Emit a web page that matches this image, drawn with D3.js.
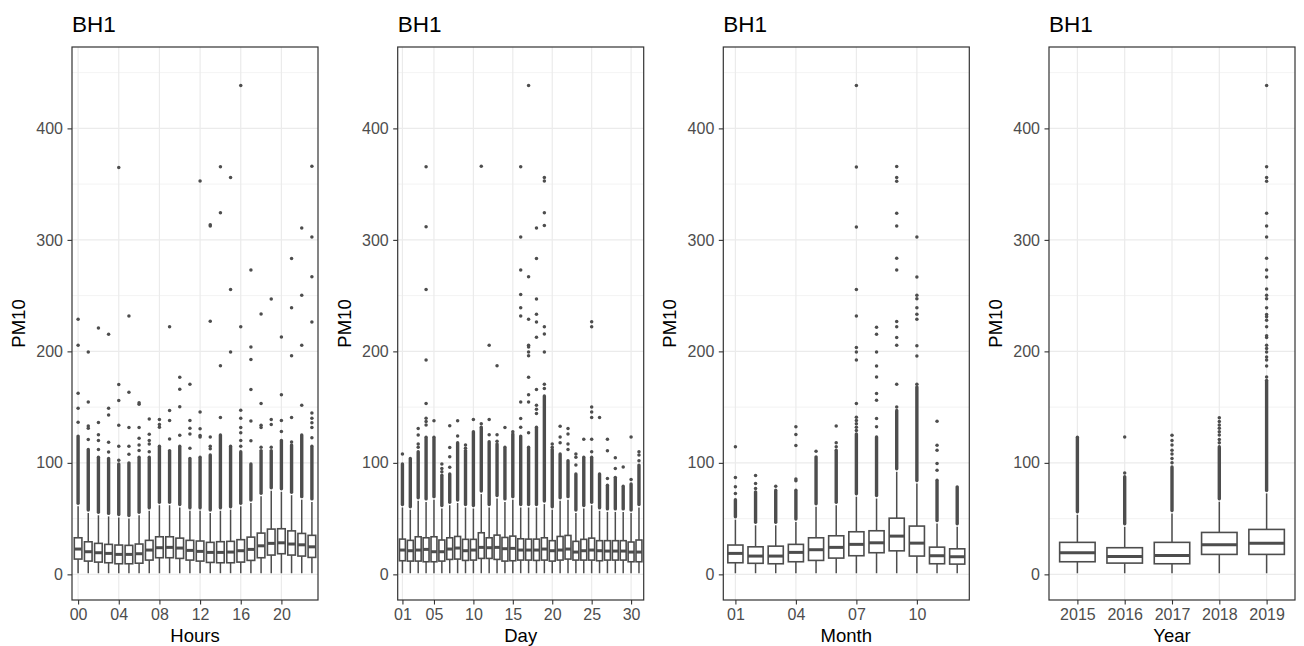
<!DOCTYPE html>
<html><head><meta charset="utf-8">
<script src="https://cdn.jsdelivr.net/npm/d3@7"></script>
<style>
body{margin:0;background:#fff}
svg{display:block}
text{font-family:"Liberation Sans",Arial,Helvetica,sans-serif}
</style>
</head><body>
<svg id="c" width="1304" height="646"></svg>
<script>
// ---------------- DATA ----------------
const yLimits = [-23, 473];
const yMajor = [0, 100, 200, 300, 400];
const yMinor = [50, 150, 250, 350, 450];

// Hours
const hourCats = ["00","01","02","03","04","05","06","07","08","09","10","11","12","13","14","15","16","17","18","19","20","21","22","23"];
const hourTicks = ["00","04","08","12","16","20"];
const hourLo  = [1,1,1,1,1,1,1,1,1,1,1,1,1,1,1,1,1,1,1,1,1,1,1,1];
const hourQ1  = [13.7,11.9,11,10.4,9.5,9.5,10,12.8,14.9,14.9,14.3,12.8,11.9,10.7,10.4,10.4,11,12.5,14.9,17.3,18.5,17.3,16.4,15.2];
const hourMed = [22.7,20.3,19.4,18.8,17.9,17.9,18.5,21.8,23.9,24.2,23.6,21.5,20.6,19.7,19.7,20,21.2,22.4,25.6,27.8,28.3,27.2,26.5,24.7];
const hourQ3  = [32.8,29.2,27.8,26.9,26.3,26,27.2,30.5,33.7,33.7,32.5,30.5,29.9,28.7,29.3,29.6,31.1,33.4,37,40.6,40.9,39,36.7,35];
const hourHi  = [61,55,53,52,51,50,53,57,62,62,60,57,57,55,57,58,61,64,70,75,74,71,67,65];
const hourDense = [124,112,105,104,99,100,105,105,115,111,115,104,105,107,125,115,110,99,111,111,120,116,125,115];
const hourOut = [
  [136.5,149,162.4,205.5,228.8],
  [121,131,133,154.7,199.5],
  [112,120,125.3,136.1,221],
  [109.8,118.5,143,149,215.3],
  [102.4,115,133.8,155.9,170.2,365],
  [107.8,115,131.7,163.3,231.7],
  [111,116,122,131.7,152.5,154],
  [110,117,120,125.6,139.4],
  [132,134.5,138.8],
  [121.3,138,146.9,222],
  [124.7,150.4,166,176.8],
  [113,126,131,138,170.5],
  [123.2,124.5,130.7,145.7,352.7],
  [112.7,115,123.2,227,312.4,313.5],
  [140.6,187,324.4,365.6],
  [199.5,255.6,356],
  [115,120,126.9,131.7,140,147.2,222,438.4],
  [119.9,137.5,165.7,192.6,204,273],
  [114,131.7,133.8,153.2,233.5],
  [114,134.3,138.8,247],
  [128.2,138,161.2,212.9],
  [118.8,140.6,196,239.2,283.4],
  [151.7,205.5,250.3,310.6],
  [122.6,131.7,136,140,144.8,226.3,267,302.5,366]
];

// Day
const dayCats = ["01","02","03","04","05","06","07","08","09","10","11","12","13","14","15","16","17","18","19","20","21","22","23","24","25","26","27","28","29","30","31"];
const dayTicks = ["01","05","10","15","20","25","30"];
const dayLo  = [1,1,1,1,1,1,1,1,1,1,1,1,1,1,1,1,1,1,1,1,1,1,1,1,1,1,1,1,1,1,1];
const dayQ1  = [12.2,11.9,11.9,11.3,11.3,11.9,13.4,13.7,12.5,12.8,14.3,14.3,13.4,11.9,12.2,12.8,12.8,12.5,12.8,11.9,12.8,13.7,12.8,12.8,12.8,12.2,12.8,12.8,12.8,11.3,11.3];
const dayMed = [21.8,21.2,21.8,22.4,20.3,20.3,22.7,23.6,21.2,21.8,24.2,23.9,24.2,23,23.3,21.8,21.8,21.8,22.7,21.2,21.8,22.7,20,21.2,21.8,21.2,20.9,20.9,20.9,20,20];
const dayQ3  = [31.6,30.5,33.7,32.8,33.7,30.8,32.8,34,31.4,31.4,37.3,32.8,35.2,33.1,34.3,31.9,31.6,31.6,32.8,30.2,34,34.9,29.6,31.4,32.5,30.2,30.2,30.2,30.2,29,30.8];
const dayHi  = [60,58,66,65,67,59,62,64,60,59,72,60,68,65,67,60,60,60,63,58,66,67,55,59,62,57,56,56,56,55,60];
const dayDense = [99,104,110,123,123,89,90,118,111,128,132,119,117,114,126,124,114,132,160,112,108,102,90,105,105,90,80,87,79,81,98];
const dayOut = [
  [108],
  [],
  [114,117,125,130.8],
  [134,137,140,153.2,192.3,255.6,311.8,365.6],
  [137.7],
  [92,95,99],
  [96,105.5,113.8,133.2],
  [124,137.7],
  [113,116],
  [138.8],
  [135,366.1],
  [125.3,138.8,205.5],
  [119.3,125.3,187],
  [131.7],
  [128],
  [132,139.7,154.7,231.7,239.2,251,273,302.5,365.6],
  [127,154.7,161.1,176.8,196,199.5,204,205.5,228.8,267,438.4],
  [144.2,148,151.7,165.7,212.6,226.3,233.3,247,283.4,310.6],
  [166.7,170.6,199.5,215.5,222,313,324.4,352.7,356],
  [114,117],
  [118,123.2,132.8],
  [112,117,126,130.8],
  [98,105,108],
  [121.1],
  [110,121.1,140.6,145.7,150.2,222,226.6],
  [140.6],
  [86,110.9,121.1],
  [95,104.6],
  [96.3],
  [85,123.2],
  [102,107,110]
];

// Month
const monthCats = ["01","02","03","04","05","06","07","08","09","10","11","12"];
const monthTicks = ["01","04","07","10"];
const monthLo  = [1,1,1,1,1,1,1,1,1,1,1,1];
const monthQ1  = [10.4,9.9,9.5,11.3,12.5,14.6,16.7,19.4,21.1,16.4,9.5,9.2];
const monthMed = [18.8,16.4,16.4,19.7,22.1,24.2,26.9,28.3,34.3,28,16.7,15.8];
const monthQ3  = [26.3,24.7,25.3,26.9,32.8,34.6,38.2,39.1,50.4,43.3,24.4,22.9];
const monthHi  = [49,44,44,47,60.6,62,69.6,68,92,81.5,45.6,42.6];
const monthDense = [67,74,75.5,75.5,105.4,111.4,126,123.3,147,168,84.5,78.5];
const monthOut = [
  [72.6,78.5,86.9,114.4],
  [77,81.5,88.7],
  [79],
  [84,85.6,115.6,125.4,132.3],
  [110.5],
  [114.4,118,133],
  [129,132,135,138,141,153.2,192.2,199.4,203.5,231.7,255.5,311.6,365.3,438.4],
  [132.3,139.8,156.2,162.2,177,186.9,199.4,215.4,221.6],
  [150.2,170.6,205.6,212.5,222,226.7,273,283.5,312.5,323.8,352.5,356,365.9],
  [170.6,195.8,205,228.8,233.3,239.2,247.3,250.3,266.7,302.5],
  [93.4,99.4,111.4,115.9,137.4],
  []
];

// Year
const yearCats = ["2015","2016","2017","2018","2019"];
const yearTicks = ["2015","2016","2017","2018","2019"];
const yearLo  = [1,1,1,1,1];
const yearQ1  = [11.3,10.1,9.5,17.9,17.9];
const yearMed = [19.4,16.1,17,26.5,28];
const yearQ3  = [28.7,23.9,28.7,37.6,40.3];
const yearHi  = [53.4,42.6,54.6,65.1,72.6];
const yearDense = [123,87.5,96.4,114.4,174];
const yearOut = [
  [],
  [91,123.3],
  [100,104,108,111.4,116,120,124.8],
  [118,121,125,128,131,134,137,140.5],
  [177,186.9,192.2,195,199.4,202.6,205.6,212.5,214,222,228,231,233,239.2,247.3,250.3,255.9,266.7,273,283.5,302.5,312.5,323.8,352.5,356,365.6,438.4]
];

// ---------------- DRAW ----------------
const panels = [
  {title:"BH1", xTitle:"Hours", cats:hourCats, ticks:hourTicks, lo:hourLo, q1:hourQ1, med:hourMed, q3:hourQ3, hi:hourHi, dense:hourDense, out:hourOut},
  {title:"BH1", xTitle:"Day",   cats:dayCats,  ticks:dayTicks,  lo:dayLo,  q1:dayQ1,  med:dayMed,  q3:dayQ3,  hi:dayHi,  dense:dayDense,  out:dayOut},
  {title:"BH1", xTitle:"Month", cats:monthCats,ticks:monthTicks,lo:monthLo,q1:monthQ1,med:monthMed,q3:monthQ3,hi:monthHi,dense:monthDense,out:monthOut},
  {title:"BH1", xTitle:"Year",  cats:yearCats, ticks:yearTicks, lo:yearLo, q1:yearQ1, med:yearMed, q3:yearQ3, hi:yearHi, dense:yearDense, out:yearOut}
];

const W = 246, TOP = 47, BOTTOM = 600;
const lefts = [72, 397.7, 723.3, 1049];
const ink = "#4d4d4d";
const svg = d3.select("#c");
const y = d3.scaleLinear().domain(yLimits).range([BOTTOM, TOP]);

panels.forEach((p, k) => {
  const g = svg.append("g").attr("transform", `translate(${lefts[k]},0)`);
  const x = d3.scalePoint().domain(p.cats).range([0, W]).padding(0.6);
  const bw = x.step() * 0.75;

  // grid
  g.selectAll("line.ymin").data(yMinor).join("line")
    .attr("x1",0).attr("x2",W).attr("y1",d=>y(d)).attr("y2",d=>y(d))
    .attr("stroke","#ebebeb").attr("stroke-width",0.6);
  g.selectAll("line.ymaj").data(yMajor).join("line")
    .attr("x1",0).attr("x2",W).attr("y1",d=>y(d)).attr("y2",d=>y(d))
    .attr("stroke","#ebebeb").attr("stroke-width",1.2);
  g.selectAll("line.xmaj").data(p.ticks).join("line")
    .attr("x1",d=>x(d)).attr("x2",d=>x(d)).attr("y1",TOP).attr("y2",BOTTOM)
    .attr("stroke","#ebebeb").attr("stroke-width",1.2);

  const rows = p.cats.map((c,i)=>({c, lo:p.lo[i], q1:p.q1[i], med:p.med[i], q3:p.q3[i], hi:p.hi[i], dense:p.dense[i], out:p.out[i]}));

  // whiskers
  const bx = g.append("g");
  bx.selectAll("line.wu").data(rows).join("line")
    .attr("x1",d=>x(d.c)).attr("x2",d=>x(d.c)).attr("y1",d=>y(d.q3)).attr("y2",d=>y(d.hi))
    .attr("stroke",ink).attr("stroke-width",1.5);
  bx.selectAll("line.wl").data(rows).join("line")
    .attr("x1",d=>x(d.c)).attr("x2",d=>x(d.c)).attr("y1",d=>y(d.q1)).attr("y2",d=>y(d.lo))
    .attr("stroke",ink).attr("stroke-width",1.5);
  // dense outlier runs
  bx.selectAll("line.dense").data(rows.filter(d=>d.dense>d.hi)).join("line")
    .attr("x1",d=>x(d.c)).attr("x2",d=>x(d.c)).attr("y1",d=>y(d.hi)-3).attr("y2",d=>y(d.dense))
    .attr("stroke",ink).attr("stroke-width",3.4).attr("stroke-linecap","round");
  // sparse outliers
  const pts = rows.flatMap(d=>d.out.map(v=>({c:d.c, v})));
  bx.selectAll("circle").data(pts).join("circle")
    .attr("cx",d=>x(d.c)).attr("cy",d=>y(d.v)).attr("r",1.75).attr("fill",ink);
  // boxes
  bx.selectAll("rect").data(rows).join("rect")
    .attr("x",d=>x(d.c)-bw/2).attr("width",bw)
    .attr("y",d=>y(d.q3)).attr("height",d=>y(d.q1)-y(d.q3))
    .attr("fill","#fff").attr("stroke",ink).attr("stroke-width",1.6);
  bx.selectAll("line.med").data(rows).join("line")
    .attr("x1",d=>x(d.c)-bw/2).attr("x2",d=>x(d.c)+bw/2).attr("y1",d=>y(d.med)).attr("y2",d=>y(d.med))
    .attr("stroke",ink).attr("stroke-width",3);

  // border
  g.append("rect").attr("x",0).attr("y",TOP).attr("width",W).attr("height",BOTTOM-TOP)
    .attr("fill","none").attr("stroke","#333").attr("stroke-width",1.2);

  // axes
  const ya = g.append("g").call(d3.axisLeft(y).tickValues(yMajor).tickSize(4.5).tickPadding(4.5));
  const xa = g.append("g").attr("transform",`translate(0,${BOTTOM})`)
    .call(d3.axisBottom(x).tickValues(p.ticks).tickSize(4.5).tickPadding(4));
  [ya, xa].forEach(a=>{
    a.select(".domain").remove();
    a.selectAll(".tick line").attr("stroke","#333").attr("stroke-width",1.1);
    a.selectAll(".tick text").attr("fill","#4d4d4d").style("font-size","16px");
  });

  // titles
  g.append("text").attr("x",0).attr("y",32).text(p.title)
    .style("font-size","22.5px").attr("fill","#000");
  g.append("text").attr("x",W/2).attr("y",642).attr("text-anchor","middle").text(p.xTitle)
    .style("font-size","18.5px").attr("fill","#000");
  g.append("text").attr("transform",`translate(-47,${(TOP+BOTTOM)/2}) rotate(-90)`)
    .attr("text-anchor","middle").text("PM10").style("font-size","18.5px").attr("fill","#000");
});
</script>
</body></html>
